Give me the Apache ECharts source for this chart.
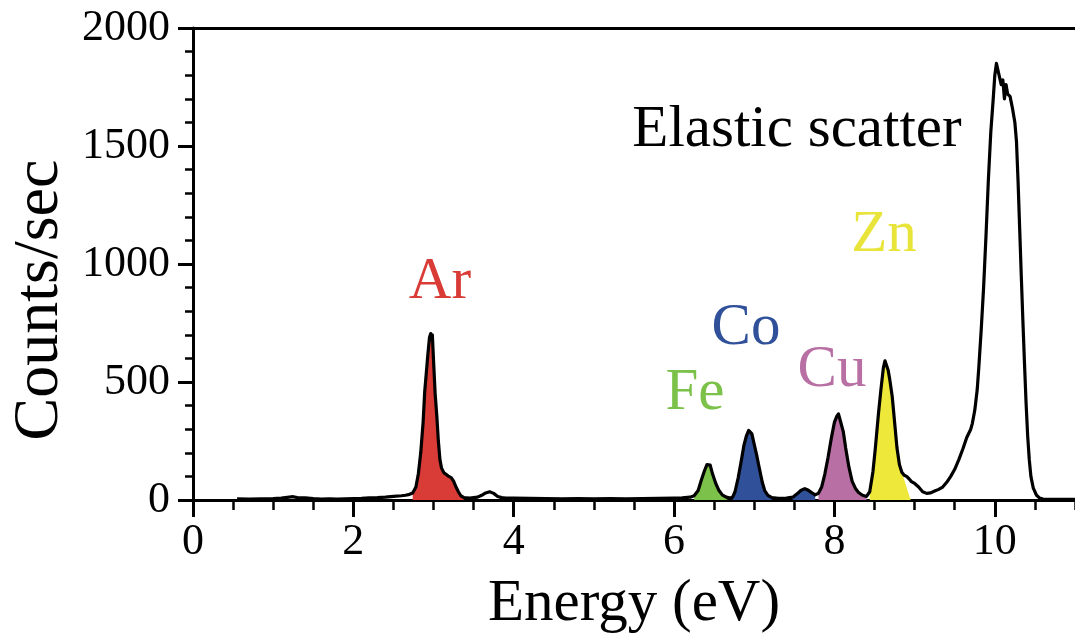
<!DOCTYPE html>
<html>
<head>
<meta charset="utf-8">
<script src="https://cdn.jsdelivr.net/npm/echarts@6/dist/echarts.min.js"></script>
<style>
  html, body { margin: 0; padding: 0; background: #fff; }
  #chart { width: 1075px; height: 640px; }
</style>
</head>
<body>
<div id="chart"></div>
<script>
// X-ray fluorescence spectrum: energy (eV) vs counts/sec
const energy = [
  0.55, 0.7, 0.85, 1.0, 1.1, 1.2, 1.25, 1.3, 1.4, 1.5, 1.6, 1.7, 1.8, 1.9, 2.0,
  2.1, 2.2, 2.3, 2.4, 2.5, 2.6, 2.65, 2.7, 2.74, 2.78, 2.81, 2.84, 2.87, 2.89, 2.91,
  2.93, 2.95, 2.965, 2.975, 2.985, 3.0, 3.02, 3.04, 3.06, 3.08, 3.1, 3.13, 3.16, 3.19, 3.22,
  3.25, 3.28, 3.31, 3.34, 3.38, 3.45, 3.5, 3.55, 3.6, 3.65, 3.7, 3.75, 3.8, 3.85, 3.9,
  4.0, 4.2, 4.4, 4.6, 4.8, 5.0, 5.2, 5.4, 5.6, 5.8, 6.0, 6.1, 6.2, 6.25, 6.3,
  6.34, 6.38, 6.41, 6.43, 6.45, 6.48, 6.52, 6.56, 6.6, 6.65, 6.7, 6.73, 6.76, 6.8, 6.84,
  6.87, 6.9, 6.93, 6.95, 6.97, 7.0, 7.03, 7.06, 7.1, 7.13, 7.17, 7.22, 7.3, 7.4, 7.48,
  7.53, 7.58, 7.63, 7.67, 7.72, 7.76, 7.8, 7.84, 7.88, 7.92, 7.96, 8.0, 8.03, 8.05, 8.07,
  8.09, 8.11, 8.14, 8.18, 8.22, 8.26, 8.3, 8.35, 8.4, 8.44, 8.48, 8.51, 8.55, 8.58, 8.61,
  8.63, 8.65, 8.67, 8.69, 8.72, 8.75, 8.78, 8.81, 8.84, 8.87, 8.9, 8.93, 8.96, 9.0, 9.05,
  9.1, 9.15, 9.2, 9.25, 9.3, 9.35, 9.4, 9.45, 9.5, 9.55, 9.6, 9.65, 9.7, 9.72, 9.75,
  9.78, 9.8, 9.83, 9.86, 9.89, 9.92, 9.95, 9.98, 10.0, 10.02, 10.04, 10.06, 10.08, 10.1, 10.12,
  10.14, 10.16, 10.19, 10.22, 10.25, 10.27, 10.29, 10.31, 10.33, 10.35, 10.37, 10.39, 10.41, 10.43, 10.45,
  10.48, 10.52, 10.56, 10.6, 10.7, 10.8, 10.9, 11.0
];
const counts = [
  5, 4, 5, 6, 8, 12, 14, 10, 9, 6, 4, 5, 4, 5, 6,
  7, 9, 10, 12, 15, 18, 20, 24, 30, 55, 110, 200, 330, 460, 540,
  620, 690, 705, 680, 700, 590, 450, 360, 250, 170, 135, 115, 108, 100, 95,
  80, 55, 35, 18, 10, 8, 10, 12, 20, 30, 35, 28, 15, 10, 8,
  8, 7, 6, 5, 6, 5, 6, 5, 6, 7, 8, 9, 12, 18, 40,
  85, 125, 150, 158, 148, 110, 70, 40, 22, 12, 8, 12, 35, 95, 170,
  230, 270, 295, 300, 280, 235, 190, 140, 75, 40, 20, 10, 7, 8, 12,
  25, 40, 48, 42, 30, 22, 28, 55, 110, 180, 260, 330, 355, 365, 340,
  345, 290, 220, 140, 80, 50, 32, 20, 15, 35, 120, 220, 370, 470, 560,
  590, 595, 550, 510, 440, 330, 220, 150, 118, 105, 100, 90, 78, 70, 55,
  35, 28, 30, 38, 45, 55, 75, 100, 130, 170, 215, 265, 300, 325, 380,
  466, 560, 720, 900, 1120, 1360, 1560, 1700, 1800, 1850, 1820, 1790, 1760, 1780, 1700,
  1760, 1720, 1710, 1660, 1600, 1520, 1350, 1150, 950, 760, 580, 410, 270, 170, 100,
  50, 20, 8, 4, 3, 3, 3, 3
];

// Element peaks: energy window of the shaded area and its colour
const peakNames = ['Ar', 'Fe', 'Co', 'CoKb', 'Cu', 'Zn'];
const peakLow   = [2.72, 6.22, 6.72, 7.45, 7.78, 8.43];
const peakHigh  = [3.38, 6.70, 7.25, 7.78, 8.42, 8.81];
const peakColors = ['#d93b36', '#7cc24a', '#30519a', '#30519a', '#b86fa3', '#ede83a'];
// Zn shading closes with a straight edge down to the baseline here
const znTailEnd = [8.95, 0];

const tickX = [0, 2, 4, 6, 8, 10];
const tickY = [0, 500, 1000, 1500, 2000];

const labelTexts = ['Ar', 'Fe', 'Co', 'Cu', 'Zn', 'Elastic scatter'];
const labelColors = ['#d93b36', '#7cc24a', '#30519a', '#b86fa3', '#e8e43a', '#000000'];

const FONT = "'Liberation Serif', 'DejaVu Serif', serif";

const spectrum = energy.map((e, i) => [e, counts[i]]);

const fillSeries = peakNames.map((name, k) => {
  const pts = spectrum.filter(p => p[0] >= peakLow[k] && p[0] <= peakHigh[k]);
  if (name === 'Zn') pts.push(znTailEnd);
  return {
    name: name,
    type: 'line',
    data: pts,
    symbol: 'none',
    silent: true,
    lineStyle: { width: 0, opacity: 0 },
    areaStyle: { color: peakColors[k], opacity: 1 },
    z: 2
  };
});

const chart = echarts.init(document.getElementById('chart'), null, { renderer: 'canvas' });

const labelPos = [
  [440, 282], [695, 393], [746, 328], [832, 370], [884, 235], [797, 130]
];

chart.setOption({
  animation: false,
  backgroundColor: '#ffffff',
  grid: { left: 193, right: 0, top: 28, bottom: 140, containLabel: false },
  xAxis: [
    {
      type: 'value', min: 0, max: 11, interval: 2, position: 'bottom',
      axisLine: { show: true, lineStyle: { color: '#000', width: 3 } },
      axisTick: { show: true, length: 17, lineStyle: { color: '#000', width: 3 } },
      axisLabel: {
        show: true, margin: 20, color: '#000', fontSize: 44, fontFamily: FONT,
        showMaxLabel: false,
        formatter: v => (tickX.indexOf(v) >= 0 ? String(v) : '')
      },
      splitLine: { show: false }
    },
    {
      type: 'value', min: 0, max: 11, interval: 0.5, position: 'bottom',
      axisLine: { show: false },
      axisTick: { show: true, length: 10, lineStyle: { color: '#000', width: 2.5 } },
      axisLabel: { show: false },
      splitLine: { show: false }
    },
    {
      type: 'value', min: 0, max: 11, position: 'top',
      axisLine: { show: true, lineStyle: { color: '#000', width: 3 } },
      axisTick: { show: false },
      axisLabel: { show: false },
      splitLine: { show: false }
    }
  ],
  yAxis: [
    {
      type: 'value', min: 0, max: 2000, interval: 500, position: 'left',
      axisLine: { show: true, lineStyle: { color: '#000', width: 3 } },
      axisTick: { show: true, length: 15, lineStyle: { color: '#000', width: 3 } },
      axisLabel: {
        show: true, margin: 23, color: '#000', fontSize: 44, fontFamily: FONT,
        formatter: v => (tickY.indexOf(v) >= 0 ? String(v) : '')
      },
      splitLine: { show: false }
    },
    {
      type: 'value', min: 0, max: 2000, interval: 100, position: 'left',
      axisLine: { show: false },
      axisTick: { show: true, length: 8, lineStyle: { color: '#000', width: 2.5 } },
      axisLabel: { show: false },
      splitLine: { show: false }
    }
  ],
  series: fillSeries.concat([{
    name: 'Spectrum',
    type: 'line',
    data: spectrum,
    symbol: 'none',
    silent: true,
    lineStyle: { color: '#000', width: 3.2, join: 'round' },
    z: 5
  }]),
  graphic: [
    {
      type: 'text', x: 634, y: 604, silent: true,
      style: { text: 'Energy (eV)', fill: '#000', fontSize: 59, fontFamily: FONT, align: 'center', verticalAlign: 'middle' }
    },
    {
      type: 'text', x: 40, y: 300, rotation: Math.PI / 2, silent: true,
      style: { text: 'Counts/sec', fill: '#000', fontSize: 64, fontFamily: FONT, align: 'center', verticalAlign: 'middle' }
    }
  ].concat(labelTexts.map((t, i) => ({
    type: 'text', x: labelPos[i][0], y: labelPos[i][1], silent: true, z: 10,
    style: { text: t, fill: labelColors[i], fontSize: 59, fontFamily: FONT, align: 'center', verticalAlign: 'middle' }
  })))
});
</script>
</body>
</html>
